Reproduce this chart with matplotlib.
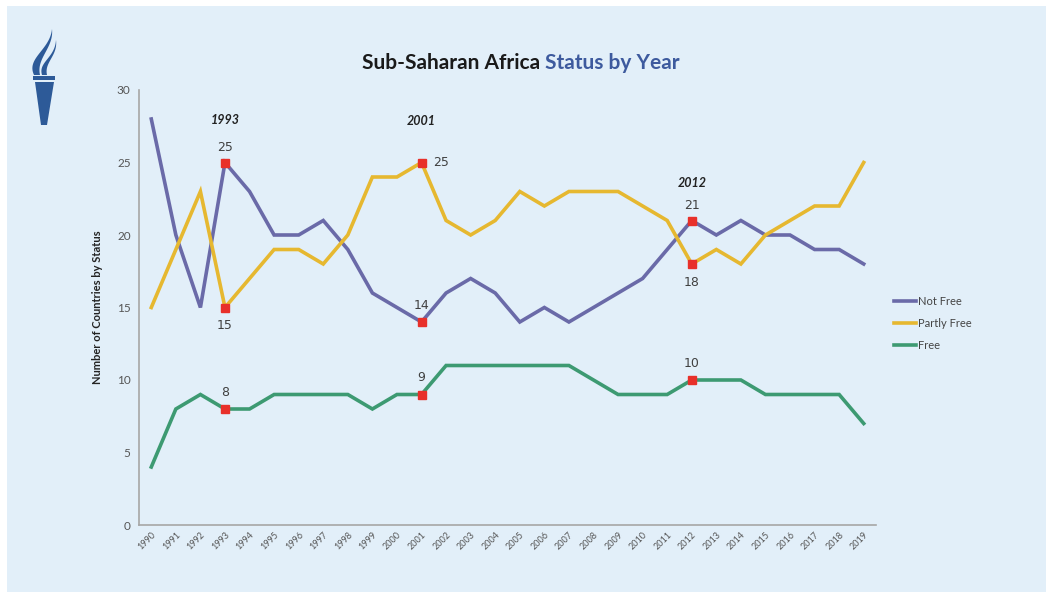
import matplotlib
matplotlib.use("Agg")
import numpy as np
import matplotlib.pyplot as plt
from matplotlib.patches import Rectangle, Polygon
from matplotlib.lines import Line2D

plt.rcParams['font.family'] = ['Lato', 'DejaVu Sans']

years = list(range(1990, 2020))
not_free = [28, 20, 15, 25, 23, 20, 20, 21, 19, 16, 15, 14, 16, 17, 16, 14, 15, 14,
            15, 16, 17, 19, 21, 20, 21, 20, 20, 19, 19, 18]
partly_free = [15, 19, 23, 15, 17, 19, 19, 18, 20, 24, 24, 25, 21, 20, 21, 23, 22, 23,
               23, 23, 22, 21, 18, 19, 18, 20, 21, 22, 22, 25]
free = [4, 8, 9, 8, 8, 9, 9, 9, 9, 8, 9, 9, 11, 11, 11, 11, 11, 11,
        10, 9, 9, 9, 10, 10, 10, 9, 9, 9, 9, 7]
series_names = ["Not Free", "Partly Free", "Free"]
highlight_years = [1993, 2001, 2012]

W, H = 1046, 595
fig = plt.figure(figsize=(W / 100, H / 100), dpi=100)
fig.patch.set_facecolor('white')

# underlay for background panel and logo (pixel coords)
bg = fig.add_axes([0, 0, 1, 1])
bg.set_xlim(0, W)
bg.set_ylim(H, 0)
bg.axis('off')
bg.add_patch(Rectangle((7, 6), W - 7, 586, facecolor='#e2eff9', edgecolor='none'))

logo_c = '#2d5a98'
bg.add_patch(Rectangle((33, 76), 22, 4, facecolor=logo_c, edgecolor='none'))
bg.add_patch(Polygon([(35, 82), (54, 82), (47, 125), (41, 125)], closed=True,
                     facecolor=logo_c, edgecolor='none'))


def bez(p0, p1, p2, p3, n=30):
    t = np.linspace(0, 1, n)[:, None]
    p0, p1, p2, p3 = map(np.array, (p0, p1, p2, p3))
    return ((1 - t) ** 3) * p0 + 3 * ((1 - t) ** 2) * t * p1 + 3 * (1 - t) * t ** 2 * p2 + t ** 3 * p3


flame_shapes = [
    (((34, 75), (26, 58), (50, 50), (52, 29)), ((52, 29), (54, 48), (36, 58), (40, 75))),
    (((42, 75), (38, 62), (55, 58), (56, 40)), ((56, 40), (58, 56), (44, 62), (47, 75))),
]
for left, right in flame_shapes:
    pts = np.vstack([bez(*left), bez(*right)])
    bg.add_patch(Polygon(pts, closed=True, facecolor=logo_c, edgecolor='none'))

ax = fig.add_axes([139 / W, 1 - 525 / H, 737 / W, 435 / H])
ax.set_facecolor('none')

c_nf = '#6a6aa8'
c_pf = '#e6b830'
c_f = '#3d9a72'
lw = 2.6
ax.plot(years, not_free, color=c_nf, lw=lw, label=series_names[0], solid_joinstyle='miter')
ax.plot(years, partly_free, color=c_pf, lw=lw, label=series_names[1], solid_joinstyle='miter')
ax.plot(years, free, color=c_f, lw=lw, label=series_names[2], solid_joinstyle='miter')

ax.set_xlim(1989.5, 2019.5)
ax.set_ylim(0, 30)
ax.set_yticks(range(0, 31, 5))
ax.set_xticks(years)
ax.set_xticklabels([str(y) for y in years], rotation=45, ha='right', rotation_mode='anchor',
                   fontsize=6.5, color='#555555')
ax.tick_params(axis='y', length=0, labelsize=8.5, labelcolor='#555555', pad=6)
ax.tick_params(axis='x', length=0, pad=4)
for s in ['top', 'right']:
    ax.spines[s].set_visible(False)
for s in ['left', 'bottom']:
    ax.spines[s].set_color('#a6a6a6')
    ax.spines[s].set_linewidth(1.2)

ax.set_ylabel("Number of Countries by Status", fontsize=8, fontweight='bold', color='#222222',
              labelpad=10)

# highlights
red = '#e8302a'
txt_c = '#404040'
for yr in highlight_years:
    i = years.index(yr)
    ax.plot([yr] * 3, [not_free[i], partly_free[i], free[i]], linestyle='none', marker='s',
            ms=6, color=red, zorder=5)


def lab(x, y, s, dx=0, dy=0):
    ax.annotate(s, (x, y), xytext=(dx, dy), textcoords='offset points', ha='center',
                va='center', fontsize=9, color=txt_c, family=['DejaVu Sans'])


i93 = years.index(1993)
i01 = years.index(2001)
i12 = years.index(2012)
lab(1993, not_free[i93], str(not_free[i93]), dy=11)
lab(1993, partly_free[i93], str(partly_free[i93]), dy=-13)
lab(1993, free[i93], str(free[i93]), dy=12)
lab(2001, partly_free[i01], str(partly_free[i01]), dx=14)
lab(2001, not_free[i01], str(not_free[i01]), dy=12)
lab(2001, free[i01], str(free[i01]), dy=12)
lab(2012, not_free[i12], str(not_free[i12]), dy=11)
lab(2012, partly_free[i12], str(partly_free[i12]), dy=-13)
lab(2012, free[i12], str(free[i12]), dy=12)

for yr, yv in zip(highlight_years, [27.9, 27.85, 23.6]):
    ax.text(yr, yv, str(yr), ha='center', va='center', fontsize=9, fontweight='bold',
            fontstyle='italic', color='#222222')

# legend
handles = [Line2D([], [], color=c, lw=2.6) for c in (c_nf, c_pf, c_f)]
fig.legend(handles, series_names, loc='upper left', bbox_to_anchor=(884 / W, 1 - 286 / H),
           frameon=False, fontsize=8, labelcolor='#444444', handlelength=2.0,
           handletextpad=0.2, labelspacing=1.0)

# title
fig.text(540 / W, 1 - 63 / H, "Sub-Saharan Africa", ha='right', va='center', fontsize=15,
         fontweight='bold', color='#1a1a1a')
fig.text(545 / W, 1 - 63 / H, "Status by Year", ha='left', va='center', fontsize=15,
         fontweight='bold', color='#3d5a9e')

fig.savefig('out.png', dpi=100, facecolor=fig.get_facecolor())
